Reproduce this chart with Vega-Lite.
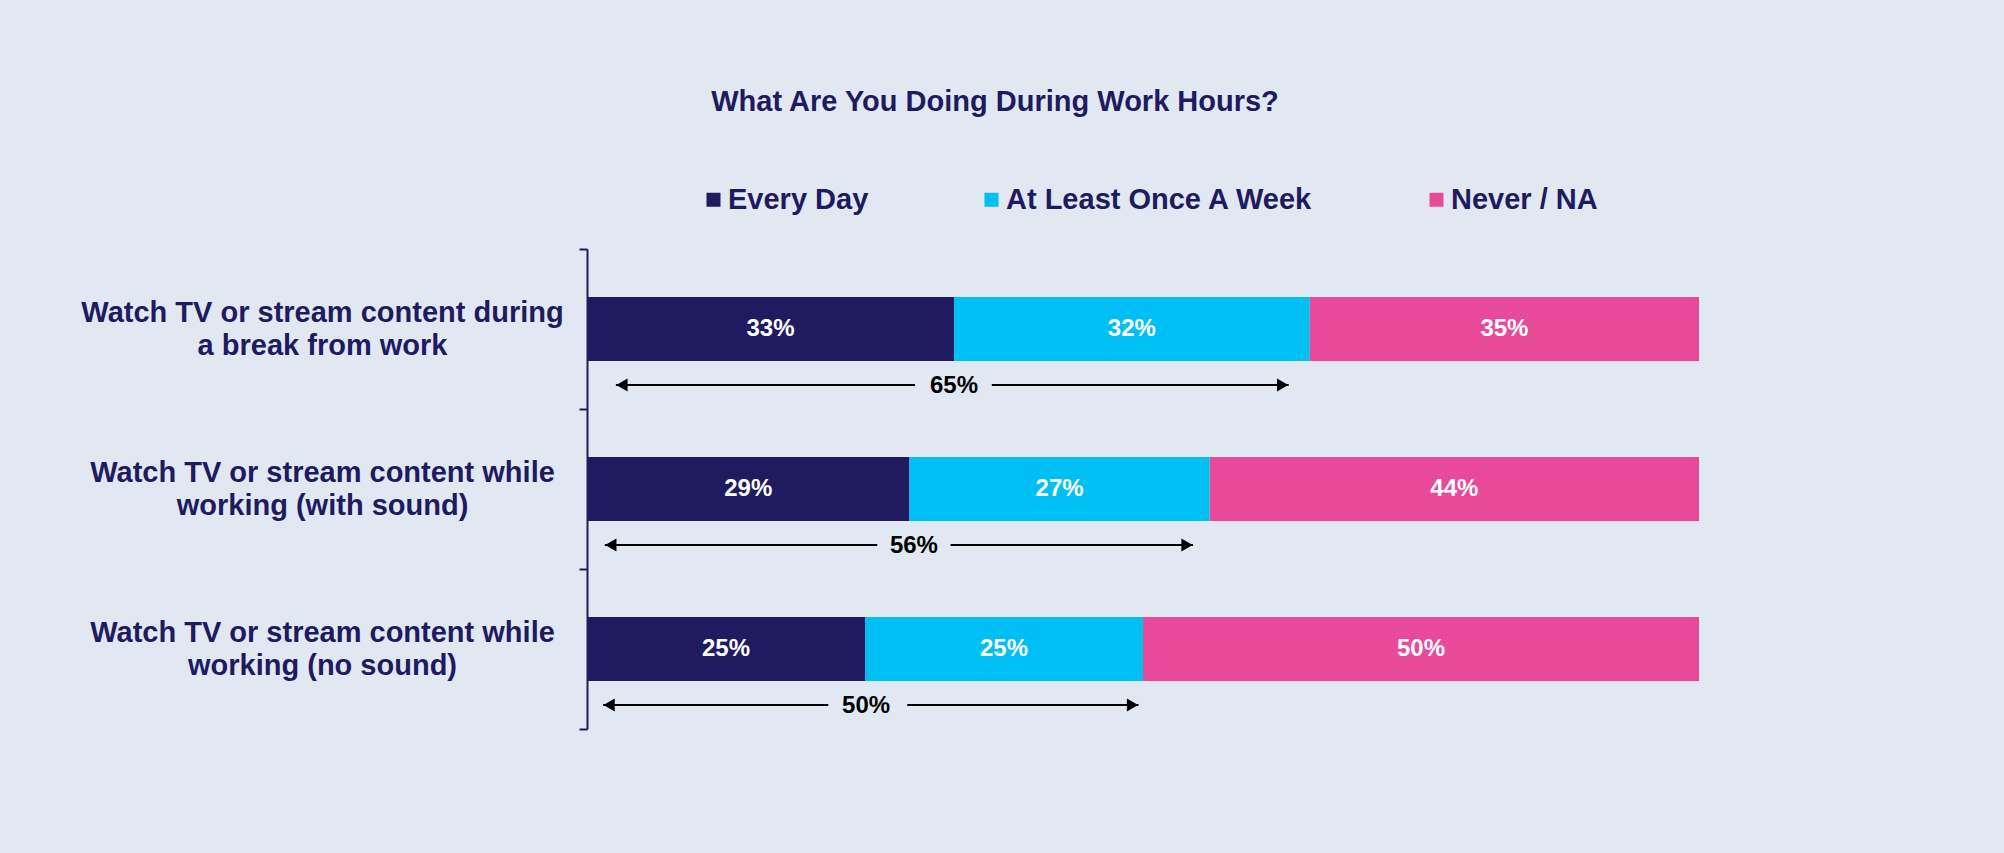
{
  "$schema": "https://vega.github.io/schema/vega-lite/v6.json",
  "width": 1112,
  "height": 480,
  "autosize": {"type": "none"},
  "padding": {"left": 587, "top": 249, "right": 305, "bottom": 124},
  "background": "#E1E8F2",
  "title": {
    "text": "What Are You Doing During Work Hours?",
    "font": "Liberation Sans",
    "fontSize": 29,
    "fontWeight": "bold",
    "color": "#201A60",
    "anchor": "middle",
    "frame": "group",
    "dx": -148,
    "offset": 68
  },
  "datasets": {
    "responses": [
      {"activity": "Watch TV or stream content during a break from work", "series": "Every Day", "order": 1, "pct": 33},
      {"activity": "Watch TV or stream content during a break from work", "series": "At Least Once A Week", "order": 2, "pct": 32},
      {"activity": "Watch TV or stream content during a break from work", "series": "Never / NA", "order": 3, "pct": 35},
      {"activity": "Watch TV or stream content while working (with sound)", "series": "Every Day", "order": 1, "pct": 29},
      {"activity": "Watch TV or stream content while working (with sound)", "series": "At Least Once A Week", "order": 2, "pct": 27},
      {"activity": "Watch TV or stream content while working (with sound)", "series": "Never / NA", "order": 3, "pct": 44},
      {"activity": "Watch TV or stream content while working (no sound)", "series": "Every Day", "order": 1, "pct": 25},
      {"activity": "Watch TV or stream content while working (no sound)", "series": "At Least Once A Week", "order": 2, "pct": 25},
      {"activity": "Watch TV or stream content while working (no sound)", "series": "Never / NA", "order": 3, "pct": 50}
    ],
    "totals": [
      {"activity": "Watch TV or stream content during a break from work", "total": "65%", "arrow_start": 2.6, "left_end": 29.5, "right_start": 36.4, "arrow_end": 63.1, "label_at": 33.0},
      {"activity": "Watch TV or stream content while working (with sound)", "total": "56%", "arrow_start": 1.6, "left_end": 26.1, "right_start": 32.7, "arrow_end": 54.5, "label_at": 29.4},
      {"activity": "Watch TV or stream content while working (no sound)", "total": "50%", "arrow_start": 1.45, "left_end": 21.7, "right_start": 28.8, "arrow_end": 49.6, "label_at": 25.1}
    ]
  },
  "encoding": {
    "y": {
      "field": "activity",
      "type": "nominal",
      "sort": null,
      "title": null,
      "scale": {"paddingInner": 0, "paddingOuter": 0}
    }
  },
  "layer": [
    {
      "data": {"name": "responses"},
      "transform": [
        {"stack": "pct", "groupby": ["activity"], "sort": [{"field": "order"}], "as": ["x0", "x1"]}
      ],
      "mark": {"type": "bar", "height": {"band": 0.4}},
      "encoding": {
        "x": {"field": "x0", "type": "quantitative", "scale": {"domain": [0, 100], "nice": false}, "axis": null},
        "x2": {"field": "x1"},
        "color": {
          "field": "series",
          "type": "nominal",
          "scale": {"domain": ["Every Day", "At Least Once A Week", "Never / NA"], "range": ["#201A60", "#00BFF3", "#E84A99"]},
          "legend": {"title": null}
        }
      }
    },
    {
      "data": {"name": "responses"},
      "transform": [
        {"stack": "pct", "groupby": ["activity"], "sort": [{"field": "order"}], "as": ["x0", "x1"]},
        {"calculate": "(datum.x0 + datum.x1) / 2", "as": "mid"},
        {"calculate": "datum.pct + '%'", "as": "lbl"}
      ],
      "mark": {"type": "text", "font": "Liberation Sans", "fontSize": 24, "fontWeight": "bold", "color": "white", "baseline": "middle", "align": "center"},
      "encoding": {
        "x": {"field": "mid", "type": "quantitative"},
        "text": {"field": "lbl"}
      }
    },
    {
      "data": {"name": "totals"},
      "mark": {"type": "rule", "color": "black", "strokeWidth": 2, "yOffset": 56},
      "encoding": {
        "x": {"field": "arrow_start", "type": "quantitative"},
        "x2": {"field": "left_end"}
      }
    },
    {
      "data": {"name": "totals"},
      "mark": {"type": "rule", "color": "black", "strokeWidth": 2, "yOffset": 56},
      "encoding": {
        "x": {"field": "right_start", "type": "quantitative"},
        "x2": {"field": "arrow_end"}
      }
    },
    {
      "data": {"name": "totals"},
      "mark": {"type": "point", "shape": "triangle-left", "filled": true, "color": "black", "opacity": 1, "size": 170, "xOffset": 6, "yOffset": 56},
      "encoding": {
        "x": {"field": "arrow_start", "type": "quantitative"}
      }
    },
    {
      "data": {"name": "totals"},
      "mark": {"type": "point", "shape": "triangle-right", "filled": true, "color": "black", "opacity": 1, "size": 170, "xOffset": -6, "yOffset": 56},
      "encoding": {
        "x": {"field": "arrow_end", "type": "quantitative"}
      }
    },
    {
      "data": {"name": "totals"},
      "mark": {"type": "text", "font": "Liberation Sans", "fontSize": 24, "fontWeight": "bold", "color": "black", "baseline": "middle", "align": "center", "yOffset": 57},
      "encoding": {
        "x": {"field": "label_at", "type": "quantitative"},
        "text": {"field": "total"}
      }
    }
  ],
  "config": {
    "view": {"stroke": null},
    "font": "Liberation Sans",
    "axisY": {
      "domainColor": "#201A60",
      "domainWidth": 2,
      "tickColor": "#201A60",
      "tickWidth": 2,
      "tickSize": 8,
      "tickBand": "extent",
      "labelFont": "Liberation Sans",
      "labelFontSize": 29,
      "labelFontWeight": "bold",
      "labelColor": "#201A60",
      "labelAlign": "center",
      "labelBaseline": "middle",
      "labelPadding": 257,
      "labelOffset": -17,
      "labelLineHeight": 33,
      "labelLimit": 0,
      "labelExpr": "split(replace(replace(datum.label, ' a break', '|a break'), ' working', '|working'), '|')"
    },
    "legend": {
      "orient": "none",
      "legendX": 112,
      "legendY": -64,
      "direction": "horizontal",
      "symbolType": "square",
      "symbolSize": 196,
      "symbolStrokeWidth": 0,
      "symbolOpacity": 1,
      "labelFont": "Liberation Sans",
      "labelFontSize": 29,
      "labelFontWeight": "bold",
      "labelColor": "#201A60",
      "labelOffset": 0,
      "labelLimit": 0,
      "columnPadding": 108
    }
  }
}
